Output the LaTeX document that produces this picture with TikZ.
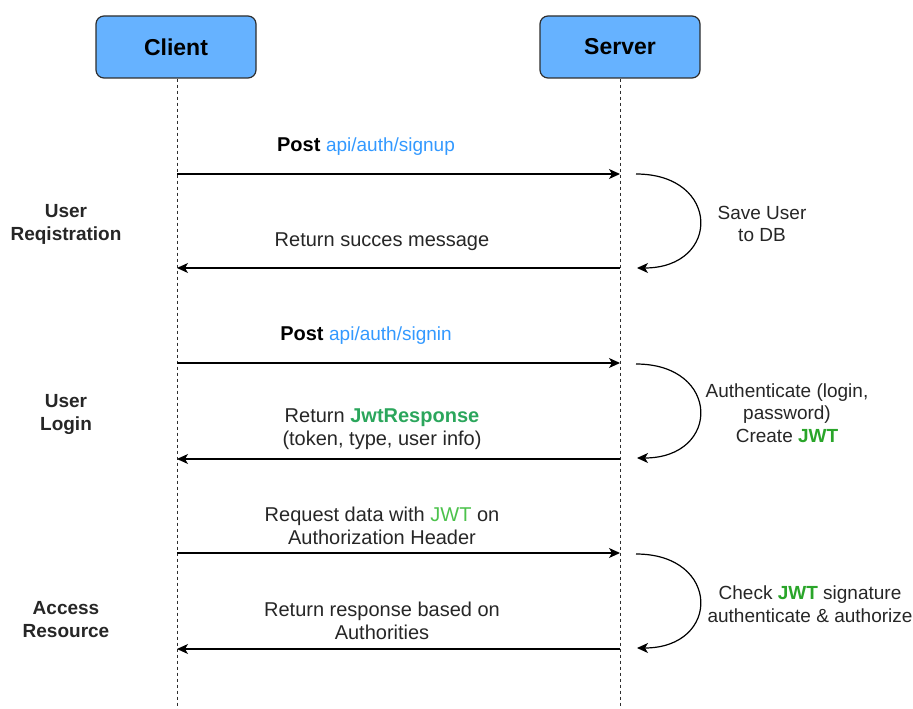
\documentclass[tikz,border=0pt]{standalone}
\usepackage{fontspec}
\setmainfont{Liberation Sans}
\usetikzlibrary{arrows.meta}
\definecolor{actorfill}{HTML}{66B2FF}
\definecolor{edge}{HTML}{2E2E2E}
\definecolor{txt}{HTML}{262626}
\definecolor{apiblue}{HTML}{3399FF}
\definecolor{jwtgreen}{HTML}{2AA52A}
\definecolor{respgreen}{HTML}{2BA65C}
\definecolor{lightgreen}{HTML}{4CC24C}

\begin{document}
\begin{tikzpicture}[x=1pt,y=-1pt,
  actor/.style={draw=edge, fill=actorfill, line width=1.2pt, rounded corners=8pt,
    minimum width=160pt, minimum height=62pt, inner sep=0pt,
    font=\fontsize{23}{26}\selectfont\bfseries, text=black},
  lifeline/.style={draw=edge, line width=1pt, dash pattern=on 3pt off 3pt},
  msg/.style={draw=black, line width=1.2pt,
    -{Stealth[length=11pt,width=10pt,inset=3pt]}},
  selfarc/.style={draw=black, line width=1.2pt,
    -{Stealth[length=11pt,width=10pt,inset=3pt]}},
  msglabel/.style={align=center, text=txt, inner sep=0pt,
    font=\fontsize{20}{23}\selectfont},
  sidelabel/.style={align=center, text=txt, inner sep=0pt,
    font=\fontsize{19}{22.5}\selectfont},
  phase/.style={align=center, text=txt, inner sep=0pt,
    font=\fontsize{19}{22.5}\selectfont\bfseries},
]
\useasboundingbox (0,0) rectangle (913,709);

% participants
\node[actor] (client) at (176,47) {Client};
\node[actor] (server) at (620,47) {Server};

% lifelines
\coordinate (clientEnd) at (177,709);
\coordinate (serverEnd) at (620,709);
\draw[lifeline] (client.south -| clientEnd) -- (clientEnd);
\draw[lifeline] (server.south) -- (serverEnd);

% message end points on the lifelines
\coordinate (c1) at (177,174); \coordinate (s1) at (620,174);
\coordinate (c2) at (177,268); \coordinate (s2) at (620,268);
\coordinate (c3) at (177,363); \coordinate (s3) at (620,363);
\coordinate (c4) at (177,459); \coordinate (s4) at (620,459);
\coordinate (c5) at (177,553); \coordinate (s5) at (620,553);
\coordinate (c6) at (177,649); \coordinate (s6) at (620,649);

% self-processing loops on the server
\coordinate (a1) at (636,174); \coordinate (b1) at (637,268);
\coordinate (a2) at (636,364); \coordinate (b2) at (637,458);
\coordinate (a3) at (636,554); \coordinate (b3) at (637,648);

% messages
\draw[msg] (c1) -- (s1);
\draw[msg] (s2) -- (c2);
\draw[msg] (c3) -- (s3);
\draw[msg] (s4) -- (c4);
\draw[msg] (c5) -- (s5);
\draw[msg] (s6) -- (c6);

\draw[selfarc] (a1) .. controls (721,174) and (721,268) .. (b1);
\draw[selfarc] (a2) .. controls (721,364) and (721,458) .. (b2);
\draw[selfarc] (a3) .. controls (721,554) and (721,648) .. (b3);

% message labels
\node[msglabel] (m1) at (366,146.5) {\textbf{\color{black}Post} {\fontsize{19}{22}\selectfont\color{apiblue}api/auth/signup}};
\node[msglabel] (m2) at (382,241.5) {Return succes message};
\node[msglabel] (m3) at (366,335.5) {\textbf{\color{black}Post} {\fontsize{19}{22}\selectfont\color{apiblue}api/auth/signin}};
\node[msglabel] (m4) at (382,429.5) {Return \textbf{\color{respgreen}JwtResponse}\\(token, type, user info)};
\node[msglabel] (m5) at (382,525.5) {Request data with {\color{lightgreen}JWT} on\\Authorization Header};
\node[msglabel] (m6) at (382,620.5) {Return response based on\\Authorities};

% server-side notes
\node[sidelabel] (n1) at (762,224) {Save User\\to DB};
\node[sidelabel] (n2) at (787,413) {Authenticate (login,\\password)\\Create \textbf{\color{jwtgreen}JWT}};
\node[sidelabel] (n3) at (810,604) {Check \textbf{\color{jwtgreen}JWT} signature\\authenticate \& authorize};

% phase labels
\node[phase] (p1) at (66,224.5) {User\\Reqistration};
\node[phase] (p2) at (66,414.5) {User\\Login};
\node[phase] (p3) at (66,619.5) {Access\\Resource};
\end{tikzpicture}
\end{document}
